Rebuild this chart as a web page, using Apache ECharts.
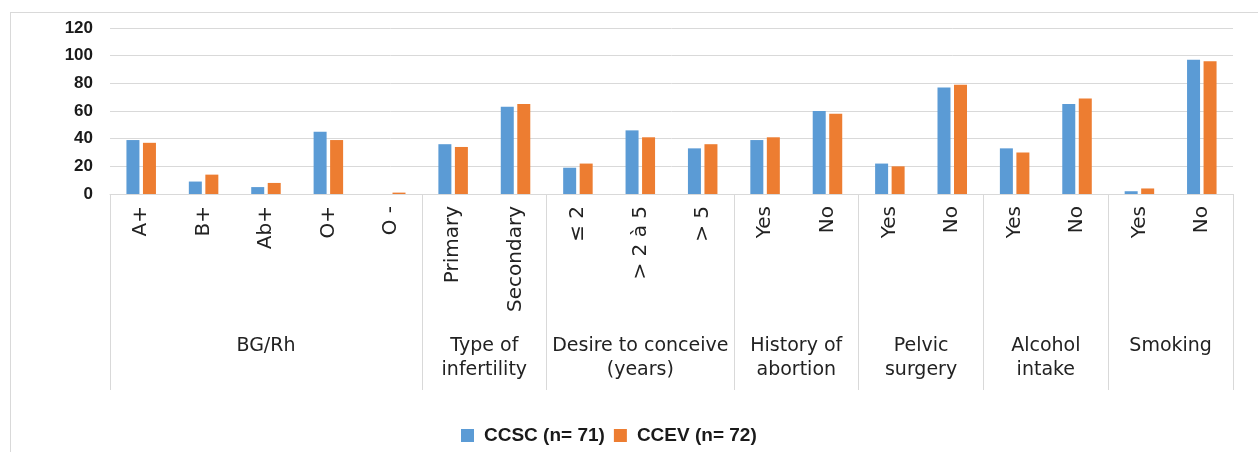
<!DOCTYPE html>
<html>
<head>
<meta charset="utf-8">
<script src="https://cdn.jsdelivr.net/npm/echarts@6/dist/echarts.min.js"></script>
<style>
    html, body {
        margin: 0;
        padding: 0;
        background: #fff;
        overflow: hidden;
    }
    .frame {
        position: absolute;
        left: 10px;
        top: 12px;
        width: 1260px;
        height: 450px;
        border: 1px solid #d9d9d9;
    }
    .chart {
        position: absolute;
        left: 0;
        top: 0;
        width: 1258px;
        height: 452px;
    }
</style>
</head>
<body>
<div class="frame"></div>
<div id="chart" class="chart"></div>
<script>
// sub-categories, in order along the axis
const categories = ['A+', 'B+', 'Ab+', 'O+', 'O -', 'Primary', 'Secondary', '≤ 2', '> 2 à 5', '> 5',
    'Yes', 'No', 'Yes', 'No', 'Yes', 'No', 'Yes', 'No']
// group labels and how many sub-categories each spans
const groups = ['BG/Rh', 'Type of\ninfertility', 'Desire to conceive\n(years)', 'History of\nabortion',
    'Pelvic\nsurgery', 'Alcohol\nintake', 'Smoking']
const groupSizes = [5, 2, 3, 2, 2, 2, 2]

const ccsc = [39, 9, 5, 45, 0, 36, 63, 19, 46, 33, 39, 60, 22, 77, 33, 65, 2, 97]
const ccev = [37, 14, 8, 39, 1, 34, 65, 22, 41, 36, 41, 58, 20, 79, 30, 69, 4, 96]

const yTicks = { min: 0, max: 120, interval: 20 }

// second axis on half-category steps: boundaries at even indexes, group names at their middle
const halfSteps = []
const boundaries = new Set([0])
const centers = {}
let start = 0
groups.forEach((g, i) => {
    centers[2 * start + groupSizes[i]] = g
    start += groupSizes[i]
    boundaries.add(2 * start)
})
for (let i = 0; i <= categories.length * 2; i++) {
    halfSteps.push(centers[i] || '')
}

const chartInstance = echarts.init(document.getElementById('chart'))

const option = {
    animation: false,
    grid: { left: 110, right: 25, top: 28, bottom: 258 },
    legend: {
        data: ['CCSC (n= 71)', 'CCEV (n= 72)'],
        left: 456,
        top: 421,
        itemWidth: 13,
        itemHeight: 13,
        itemGap: 9,
        icon: 'rect',
        textStyle: {
            fontFamily: 'Liberation Sans',
            fontWeight: 'bold',
            fontSize: 19,
            color: '#1a1a1a',
            padding: [0, 0, 0, 5]
        }
    },
    xAxis: [
        {
            type: 'category',
            data: categories,
            axisLine: { lineStyle: { color: '#d9d9d9' } },
            axisTick: { show: false },
            axisLabel: {
                rotate: 90,
                interval: 0,
                margin: 12,
                fontFamily: 'DejaVu Sans',
                fontSize: 20,
                color: '#222'
            }
        },
        {
            type: 'category',
            position: 'bottom',
            data: halfSteps,
            boundaryGap: false,
            axisLine: { show: false },
            axisTick: {
                interval: (idx) => boundaries.has(idx),
                length: 196,
                lineStyle: { color: '#d9d9d9' }
            },
            axisLabel: {
                interval: 0,
                margin: 140,
                fontFamily: 'DejaVu Sans',
                fontSize: 19,
                lineHeight: 24,
                color: '#222',
                align: 'center',
                verticalAlign: 'top'
            }
        }
    ],
    yAxis: {
        type: 'value',
        min: yTicks.min,
        max: yTicks.max,
        interval: yTicks.interval,
        axisLine: { show: false },
        axisTick: { show: false },
        splitLine: { lineStyle: { color: '#d9d9d9' } },
        axisLabel: {
            margin: 17,
            fontFamily: 'Liberation Sans',
            fontWeight: 'bold',
            fontSize: 17,
            color: '#1a1a1a'
        }
    },
    series: [
        {
            name: 'CCSC (n= 71)',
            type: 'bar',
            data: ccsc,
            barWidth: 13,
            barGap: '27%',
            itemStyle: { color: '#5b9bd5' }
        },
        {
            name: 'CCEV (n= 72)',
            type: 'bar',
            data: ccev,
            barWidth: 13,
            barGap: '27%',
            itemStyle: { color: '#ed7d31' }
        }
    ]
}

chartInstance.setOption(option)
</script>
</body>
</html>
